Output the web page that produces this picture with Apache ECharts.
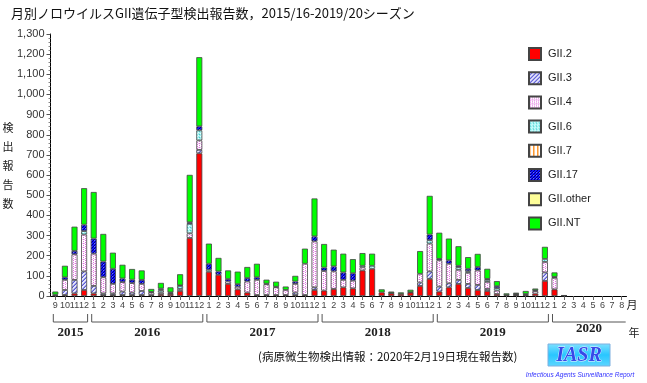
<!DOCTYPE html>
<html><head><meta charset="utf-8">
<script src="https://cdn.jsdelivr.net/npm/echarts@6/dist/echarts.min.js"></script>
<style>html,body{margin:0;padding:0;background:#fff}#c{width:647px;height:383px}</style>
</head><body><div id="c"></div>
<script>
// month labels (2015/9 .. 2020/8)
const months = [9,10,11,12,
  1,2,3,4,5,6,7,8,9,10,11,12,
  1,2,3,4,5,6,7,8,9,10,11,12,
  1,2,3,4,5,6,7,8,9,10,11,12,
  1,2,3,4,5,6,7,8,9,10,11,12,
  1,2,3,4,5,6,7,8];
const years = ['2015','2016','2017','2018','2019','2020'];
const seriesNames = ['GII.2','GII.3','GII.4','GII.6','GII.7','GII.17','GII.other','GII.NT'];

const gii2 = [3,5,13,30, 13,5,5,5,5,5,5,9,10,25,288,708, 120,105,60,33,17,5,5,5,5,5,5,30, 27,35,43,38,127,135,18,13,10,17,50,85, 22,43,60,40,30,25,10,5,5,5,12,75, 33,2,0,0,0,0,0,0];
const gii3 = [0,25,67,92, 37,8,8,17,12,20,0,0,0,0,0,17, 0,0,0,0,0,0,0,0,0,12,0,13, 0,0,0,0,0,0,0,0,0,0,17,37, 25,20,20,20,25,10,0,0,0,5,0,42, 0,0,0,0,0,0,0,0];
const gii4 = [4,50,127,183, 160,80,47,47,47,35,12,8,3,10,23,47, 0,0,12,13,55,75,53,38,25,43,155,228, 97,87,37,38,15,0,0,0,0,0,43,138, 130,97,50,55,72,35,17,0,3,0,12,52, 57,0,0,0,0,0,0,0];
const gii6 = [0,0,0,17, 0,0,0,0,0,0,0,10,0,15,47,50, 10,0,0,0,0,0,0,0,0,0,0,0, 0,0,0,0,8,15,0,0,0,0,0,17, 0,0,13,8,0,10,12,0,0,0,0,15, 0,0,0,0,0,0,0,0];
const gii7 = [0,0,0,0, 0,0,0,0,0,0,0,5,0,0,0,0, 0,0,0,0,0,0,0,0,0,0,0,0, 0,0,0,0,0,0,0,0,0,0,0,0, 0,0,0,0,0,0,0,0,0,0,0,0, 0,0,0,0,0,0,0,0];
const gii17 = [0,13,17,32, 75,78,75,18,17,20,3,5,5,3,8,20, 30,17,12,13,17,13,3,3,0,12,0,25, 17,25,37,37,0,0,0,2,0,2,0,28, 7,17,7,12,17,5,10,0,3,0,5,0, 5,0,0,0,0,0,0,0];
const giiOther = [0,0,0,0, 0,0,0,0,0,0,0,0,0,0,0,0, 0,0,0,0,0,0,0,0,0,0,0,0, 0,0,0,0,0,0,0,0,0,0,0,0, 0,0,0,0,0,0,0,0,0,0,0,0, 0,0,0,0,0,0,0,0];
const giiNT = [15,57,120,181, 231,137,80,68,53,47,15,28,25,55,235,343, 100,67,43,62,55,67,20,25,17,28,75,188, 117,83,93,70,63,60,15,7,8,12,113,192, 130,108,97,58,65,50,25,8,5,15,8,60, 22,1,0,0,0,0,0,0];
const yTicks = [0,100,200,300,400,500,600,700,800,900,1000,1100,1200,1300];

function pat(w,h,draw){const c=document.createElement('canvas');c.width=w;c.height=h;const g=c.getContext('2d');draw(g);return {image:c,repeat:'repeat'};}
function px(g,col,pts){g.fillStyle=col;pts.forEach(p=>g.fillRect(p[0],p[1],1,1));}
const colors = [
  '#ff0000',
  pat(4,4,g=>{g.fillStyle='#e4e4fb';g.fillRect(0,0,4,4);px(g,'#5a5ad6',[[0,3],[1,2],[2,1],[3,0]]);px(g,'#9a9ae8',[[0,2],[1,1],[2,0],[3,3]]);}),
  pat(4,4,g=>{g.fillStyle='#ffffff';g.fillRect(0,0,4,4);px(g,'#e070e0',[[1,0],[1,2],[3,1],[3,3]]);px(g,'#f2c0f2',[[0,3],[2,3]]);}),
  pat(3,3,g=>{g.fillStyle='#9ff3f3';g.fillRect(0,0,3,3);px(g,'#e8ffff',[[0,0],[2,1]]);px(g,'#4cc8c8',[[1,2]]);}),
  pat(4,1,g=>{g.fillStyle='#ffffff';g.fillRect(0,0,4,1);px(g,'#ff9a30',[[0,0]]);px(g,'#ffc890',[[1,0]]);}),
  pat(3,3,g=>{g.fillStyle='#1414ff';g.fillRect(0,0,3,3);px(g,'#00007a',[[0,0],[2,1],[1,2]]);px(g,'#6a6aff',[[1,0]]);}),
  '#ffff99',
  '#00ff00'
];
const dataList = [gii2,gii3,gii4,gii6,gii7,gii17,giiOther,giiNT];

const chart = echarts.init(document.getElementById('c'), null, {renderer:'canvas'});
const option = {
  animation:false,
  backgroundColor:'#fff',
  title:{text:'月別ノロウイルスGII遺伝子型検出報告数，2015/16-2019/20シーズン',left:6,top:2,
    textStyle:{fontFamily:'"Noto Sans CJK JP"',fontSize:13,fontWeight:'normal',color:'#111'}},
  legend:{orient:'vertical',left:523,top:42,itemWidth:12,itemHeight:12,itemGap:10.2,
    icon:'rect',data:seriesNames,
    textStyle:{fontFamily:'"Liberation Sans", Arial',fontSize:11,color:'#222',padding:[0,0,0,2]}},
  grid:{left:50.5,right:20.5,top:34,bottom:87},
  xAxis:{type:'category',data:months.map(String),
    axisLine:{lineStyle:{color:'#000',width:1}},
    axisTick:{show:true,alignWithLabel:true,interval:0,length:4,lineStyle:{color:'#666'}},
    axisLabel:{interval:0,fontSize:9,color:'#444',margin:5,fontFamily:'"Liberation Sans", Arial'}},
  yAxis:{type:'value',min:yTicks[0],max:yTicks[yTicks.length-1],interval:100,
    axisLine:{show:true,lineStyle:{color:'#000',width:1}},
    axisTick:{show:true,length:4,lineStyle:{color:'#555'}},
    minorTick:{show:true,splitNumber:5,length:2,lineStyle:{color:'#888'}},
    splitLine:{show:false},
    axisLabel:{fontSize:11,color:'#333',margin:6,fontFamily:'"Liberation Sans", Arial',
      formatter:v=>v.toLocaleString('en-US')}},
  series: seriesNames.map((n,i)=>({
    name:n,type:'bar',stack:'all',barWidth:6,
    data:dataList[i].map(v=>v>0?v:null),
    itemStyle:{color:colors[i],borderColor:'#444',borderWidth:0.8}
  }))
};
chart.setOption(option);

// decorations: year brackets, units, footer, logo
const g = [];
let start = 0;
const groups = [];
for (let i=1;i<=months.length;i++){
  if (i===months.length || months[i]===1){groups.push([start,i-1]);start=i;}
}
groups.forEach((gr,k)=>{
  const x0 = chart.convertToPixel({xAxisIndex:0}, gr[0]) - 2;
  const last = k===groups.length-1;
  const x1 = chart.convertToPixel({xAxisIndex:0}, gr[1]) + (last?4:3.5);
  const yl = 322;
  const pts = last ? [[x0,314],[x0,yl],[x1,yl]] : [[x0,314],[x0,yl],[x1,yl],[x1,314]];
  g.push({type:'polyline',shape:{points:pts},style:{stroke:'#555',lineWidth:1,fill:null},silent:true});
  g.push({type:'text',x:(x0+x1)/2,y:last?329:333,style:{text:years[k],fontFamily:'"Liberation Serif", serif',fontWeight:'bold',fontSize:13,fill:'#222',textAlign:'center',textVerticalAlign:'middle'}});
});
g.push({type:'text',x:632,y:305,style:{text:'月',fontFamily:'"Noto Sans CJK JP"',fontSize:11,fill:'#222',textAlign:'center',textVerticalAlign:'middle'}});
g.push({type:'text',x:634,y:333,style:{text:'年',fontFamily:'"Noto Sans CJK JP"',fontSize:11,fill:'#222',textAlign:'center',textVerticalAlign:'middle'}});
g.push({type:'text',x:8,y:166,style:{text:'検\n出\n報\n告\n数',fontFamily:'"Noto Sans CJK JP"',fontSize:11,lineHeight:19,fill:'#222',textAlign:'center',textVerticalAlign:'middle'}});
g.push({type:'text',x:258,y:357,style:{text:'(病原微生物検出情報：2020年2月19日現在報告数)',fontFamily:'"Noto Sans CJK JP"',fontSize:11.5,fill:'#111',textAlign:'left',textVerticalAlign:'middle'}});
g.push({type:'rect',shape:{x:548,y:344,width:62,height:22},style:{fill:new echarts.graphic.LinearGradient(0,0,0,1,[{offset:0,color:'#7fe0ff'},{offset:0.5,color:'#29c6ff'},{offset:1,color:'#5fd6ff'}]),stroke:'#7fb0e0',lineWidth:1}});
g.push({type:'text',x:579,y:355.5,style:{text:'IASR',fontFamily:'"Liberation Serif", serif',fontStyle:'italic',fontWeight:'bold',fontSize:20,fill:'#3848e8',stroke:'#e8f4ff',lineWidth:0.8,textAlign:'center',textVerticalAlign:'middle'}});
g.push({type:'text',x:580,y:375,style:{text:'Infectious Agents Surveillance Report',fontFamily:'"Liberation Sans", Arial',fontStyle:'italic',fontSize:6.5,fill:'#3333ff',textAlign:'center',textVerticalAlign:'middle'}});
chart.setOption({graphic:g});
</script></body></html>
